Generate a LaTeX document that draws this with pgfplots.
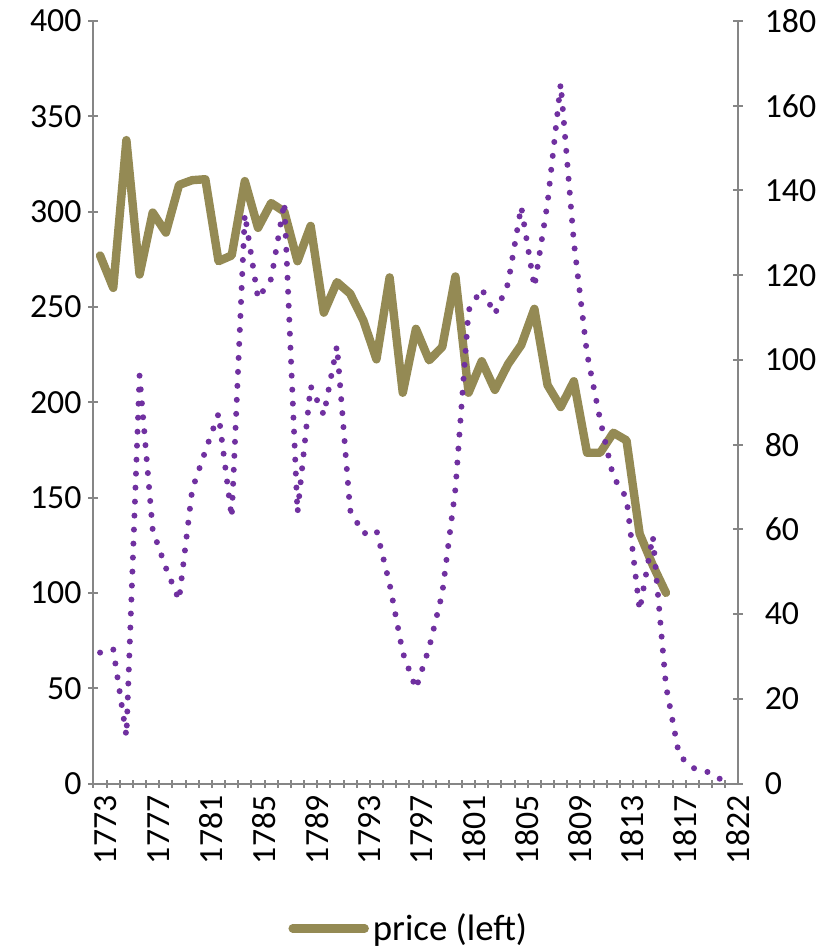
\documentclass[border=0pt]{standalone}
\usepackage{pgfplots}
\usepackage{pgfplotstable}
\pgfplotsset{compat=1.18}
\usepackage{fontspec}
\setmainfont{Carlito}

\definecolor{pricecol}{HTML}{948A54}
\definecolor{plum}{HTML}{7030A0}
\definecolor{axisgray}{HTML}{868686}

% price, left axis (1773-1816)
\pgfplotstableread{
i price
0 277
1 260
2 337.5
3 267
4 299.5
5 289
6 314
7 316.5
8 317
9 274
10 277
11 316
12 291.5
13 304.5
14 300
15 274
16 292.5
17 247
18 263
19 257
20 243
21 222.5
22 265.5
23 205
24 238.5
25 222
26 229
27 266
28 205
29 221.5
30 206.5
31 220
32 230
33 249
34 209
35 197.5
36 211
37 173.5
38 173.5
39 184
40 180
41 131
42 114.5
43 100
}\pricedata

% second series, right axis
\pgfplotstableread{
i val
0 30.9
1 31.7
2 11.2
3 96.3
4 59.8
5 50.9
6 43.3
7 69.4
8 78.5
9 87.3
10 62.8
11 134.4
12 114.5
13 119.1
14 137.2
15 63.9
16 93.8
17 87
18 103.3
19 64.5
20 59
21 59.8
22 47.1
23 30.9
24 22.4
25 32
26 44.9
27 69.5
28 111.7
29 116.8
30 110.8
31 118
32 136.2
33 117.2
34 137
35 165.2
36 127.8
37 101.5
38 85.8
39 72.4
40 67.4
41 40.9
42 58.4
43 23
44 6.7
45 3.7
46 3.0
47 1.2
48 0.3
}\otherdata

\pgfplotsset{
  basechart/.style={
    scale only axis, width=322.1pt, height=381.25pt,
    at={(0,0)}, anchor=south west,
    xmin=-0.5, xmax=48.45,
    clip=false,
    tick align=outside,
    major tick length=5pt, minor tick length=4pt,
    tick style={draw=axisgray, line width=1pt},
    ticklabel style={font=\fontsize{16.9pt}{20pt}\selectfont, text=black},
    /pgf/number format/assume math mode=true,
  },
  nolinearrows/.style={
    axis line style={draw=axisgray, line width=1pt, -},
    every outer x axis line/.append style={-},
    every outer y axis line/.append style={-},
    x axis line style={-},
    y axis line style={-},
  }
}

\begin{document}
\begin{tikzpicture}
\path[use as bounding box] (-46.75pt,-82.75pt) rectangle (363.75pt,391.75pt);

\begin{axis}[basechart,
  axis x line=bottom, axis y line=left, nolinearrows,
  ymin=0, ymax=400, ytick={0,50,...,400},
  xtick={0,4,...,48},
  xticklabels={1773,1777,1781,1785,1789,1793,1797,1801,1805,1809,1813,1817,1822},
  minor xtick={-0.5,0.5,...,48.5},
  major x tick style={draw=none},
  xticklabel style={rotate=90, anchor=east, yshift=-3pt},
  legend style={draw=none, fill=none, at={(0.491,-0.19)}, anchor=center,
    font=\fontsize{18.4pt}{21pt}\selectfont},
  legend image code/.code={\draw[#1] (0pt,0pt) -- (36pt,0pt);},
]
\addplot[pricecol, line width=4.2pt, line join=round, line cap=round] table[x=i, y=price] {\pricedata};
\addlegendentry{price (left)}
\end{axis}

\begin{axis}[basechart,
  axis x line=none, axis y line=right, nolinearrows,
  ymin=0, ymax=180, ytick={0,20,...,180},
  yticklabel style={anchor=west, xshift=7.5pt},
]
\addplot[plum, line width=3pt, line cap=round, line join=round, dash pattern=on 0pt off 7pt] table[x=i, y=val] {\otherdata};
\end{axis}
\end{tikzpicture}
\end{document}
